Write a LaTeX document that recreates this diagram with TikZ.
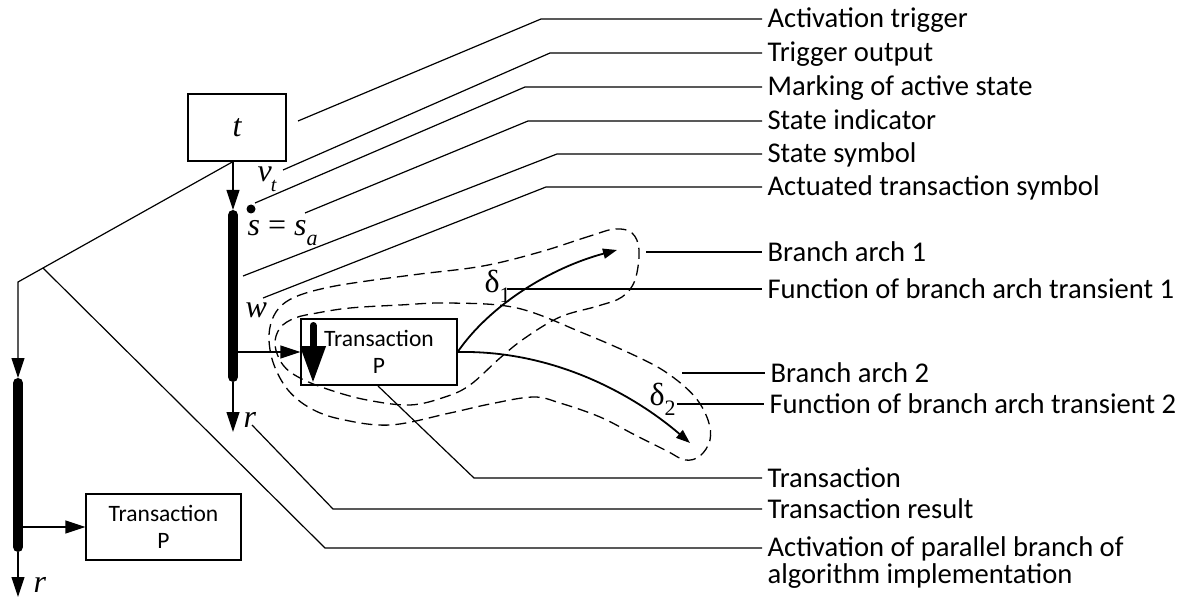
\documentclass[tikz,border=0pt]{standalone}
\usepackage{fontspec}
\setmainfont{Carlito}
\newfontfamily\tnr{Liberation Serif}
\usetikzlibrary{arrows.meta}
\begin{document}
\begin{tikzpicture}[x=1pt,y=-1pt,line width=1.2pt,
  lbl/.style={font=\fontsize{28.6}{27}\selectfont,inner xsep=5pt,inner ysep=0pt,anchor=base west,align=left},
  mlbl/.style={font=\tnr\itshape\fontsize{32}{32}\selectfont,inner sep=0pt,anchor=base west},
  glbl/.style={font=\tnr\fontsize{32}{32}\selectfont,inner sep=0pt,anchor=base west},
  box/.style={draw,inner sep=0pt,align=center,font=\fontsize{23.5}{27}\selectfont},
  arr/.style={-{Triangle[length=20pt,width=13pt]}},
  bar/.style={line width=10pt,line cap=round},
  dashloop/.style={line width=1.3pt,dash pattern=on 11pt off 6pt},
  branch/.style={line width=1.8pt,-{Triangle[length=14pt,width=10pt]}},
  lead/.style={line width=1.2pt}]
\useasboundingbox (0,0) rectangle (1187,599);

% boxes
\node[box,minimum width=98pt,minimum height=67pt,font=\tnr\itshape\fontsize{32}{32}\selectfont] (tbox) at (237,127.5) {t};
\node[box,minimum width=156pt,minimum height=66pt] (pbox) at (379,352) {Transaction\\P};
\node[box,minimum width=155pt,minimum height=66pt] (qbox) at (163.5,527) {Transaction\\P};

% main branch
\coordinate (btop) at (233,210);
\coordinate (bbot) at (233,382);
\coordinate (bout) at (233,352);
\coordinate (rtip) at (233,432);
\draw[arr] (tbox.south -| btop) -- (btop);
\draw[bar] (233,215) -- (233,377);
\draw[arr] (bout) -- (pbox.west);
\draw[arr] (bbot) -- (rtip);

% left branch
\coordinate (lcorner) at (18,282);
\coordinate (ltop) at (18,378);
\coordinate (lout) at (18,527);
\coordinate (lbot) at (18,552);
\coordinate (ltip) at (18,597);
\draw[arr] (tbox.south -| btop) -- (lcorner) -- (ltop);
\draw[bar] (18,383) -- (18,547);
\draw[arr] (lout) -- (qbox.west);
\draw[arr] (lbot) -- (ltip);

% marking dot
\fill (251,209) circle (4.5);

% actuated transaction arrow
\draw[line width=7pt,line cap=round,-{Triangle[length=37pt,width=24pt]}] (313,325.5) -- (313,383);

% branch arches
\coordinate (a1) at (617,250);
\coordinate (a2) at (690,443);
\draw[branch] (pbox.east) .. controls (490,305) and (550,268) .. (a1);
\draw[branch] (pbox.east) .. controls (560,350) and (640,400) .. (a2);

% dashed outline of the two branch arches (one self-crossing closed curve)
\draw[dashloop] plot[smooth cycle,tension=0.6] coordinates {
 (615,229) (590,236) (540,252) (483,266) (420,274) (367,281) (330,287) (300,295) (282,305)
 (272,320) (269,340) (274,365) (288,390) (310,408) (340,419) (390,425) (450,413) (490,404)
 (533,397) (560,403) (600,417) (635,435) (667,451) (685,460) (700,456) (710,440) (708,420)
 (695,397) (670,375) (640,358) (583,333) (517,308) (450,303) (400,305) (350,308) (317,313)
 (295,318) (280,328) (275,345) (283,365) (300,378) (330,390) (367,400) (410,405) (445,397)
 (470,385) (500,358) (525,338) (560,317) (598,306) (622,297) (635,280) (639,250) (632,233)};

% math labels
\node[mlbl] (vt) at (257,182) {v\kern-1pt\raisebox{-10pt}{\fontsize{20}{20}\selectfont t}};
\node[mlbl] (ssa) at (247,235) {s {\upshape=} s\raisebox{-10pt}{\fontsize{22}{22}\selectfont a}};
\node[mlbl] (w) at (245,317) {w};
\node[mlbl] (r1) at (243,427) {r};
\node[mlbl] (r2) at (33,592) {r};
\node[glbl] (d1) at (484,292) {δ\raisebox{-10pt}{\fontsize{22}{22}\selectfont 1}};
\node[glbl] (d2) at (649,405) {δ\raisebox{-10pt}{\fontsize{22}{22}\selectfont 2}};

% labels
\node[lbl] (l1) at (762,28) {Activation trigger};
\node[lbl] (l2) at (762,62) {Trigger output};
\node[lbl] (l3) at (762,96) {Marking of active state};
\node[lbl] (l4) at (762,130) {State indicator};
\node[lbl] (l5) at (762,163) {State symbol};
\node[lbl] (l6) at (762,196) {Actuated transaction symbol};
\node[lbl] (l7) at (762,261) {Branch arch 1};
\node[lbl] (l8) at (762,298) {Function of branch arch transient 1};
\node[lbl] (l9) at (765,382) {Branch arch 2};
\node[lbl] (l10) at (764,413) {Function of branch arch transient 2};
\node[lbl] (l11) at (762,487) {Transaction};
\node[lbl] (l12) at (762,518) {Transaction result};
\node[lbl] (l13) at (762,583) {Activation of parallel branch of\\algorithm implementation};

% leader lines
\coordinate (s1) at (298,121); \coordinate (k1) at (541,19);
\coordinate (s2) at (283,170); \coordinate (k2) at (550,53);
\coordinate (s3) at (255,203); \coordinate (k3) at (525,87);
\coordinate (s4) at (305,213); \coordinate (k4) at (528,121);
\coordinate (s5) at (243,276); \coordinate (k5) at (557,154);
\coordinate (s6) at (263,298); \coordinate (k6) at (546,187);
\coordinate (s7) at (646,252);
\coordinate (s8) at (507,289);
\coordinate (s9) at (682,373);
\coordinate (s10) at (677,404);
\coordinate (s11) at (378,386); \coordinate (k11) at (474,478);
\coordinate (s12) at (252,425); \coordinate (k12) at (333,509);
\coordinate (s13) at (43,268); \coordinate (k13) at (325,548);
\draw[lead] (s1) -- (k1) -- (l1.west |- k1);
\draw[lead] (s2) -- (k2) -- (l2.west |- k2);
\draw[lead] (s3) -- (k3) -- (l3.west |- k3);
\draw[lead] (s4) -- (k4) -- (l4.west |- k4);
\draw[lead] (s5) -- (k5) -- (l5.west |- k5);
\draw[lead] (s6) -- (k6) -- (l6.west |- k6);
\draw[lead] (s7) -- (l7.west |- s7);
\draw[lead] (s8) -- (l8.west |- s8);
\draw[lead] (s9) -- (l9.west |- s9);
\draw[lead] (s10) -- (l10.west |- s10);
\draw[lead] (s11) -- (k11) -- (l11.west |- k11);
\draw[lead] (s12) -- (k12) -- (l12.west |- k12);
\draw[lead] (s13) -- (k13) -- (l13.west |- k13);
\end{tikzpicture}
\end{document}
